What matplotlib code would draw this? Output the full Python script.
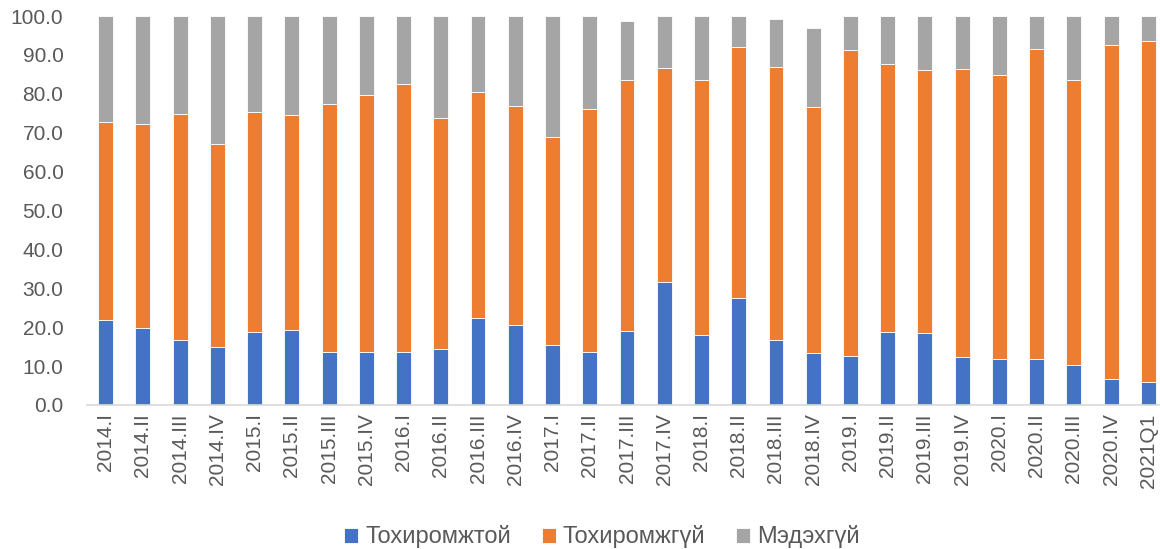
import matplotlib
matplotlib.use('Agg')
import matplotlib.pyplot as plt
import numpy as np

plt.rcParams['font.family'] = ['Liberation Sans', 'DejaVu Sans']

periods = ['2014.I', '2014.II', '2014.III', '2014.IV',
           '2015.I', '2015.II', '2015.III', '2015.IV',
           '2016.I', '2016.II', '2016.III', '2016.IV',
           '2017.I', '2017.II', '2017.III', '2017.IV',
           '2018.I', '2018.II', '2018.III', '2018.IV',
           '2019.I', '2019.II', '2019.III', '2019.IV',
           '2020.I', '2020.II', '2020.III', '2020.IV', '2021Q1']

# cumulative tops
suitable = [21.9, 19.9, 16.8, 14.9, 18.8, 19.3, 13.5, 13.5, 13.7, 14.5,
            22.4, 20.6, 15.3, 13.7, 19.1, 31.6, 18.1, 27.5, 16.7, 13.4,
            12.5, 18.7, 18.4, 12.3, 11.7, 11.9, 10.4, 6.6, 6.0]
top_orange = [72.7, 72.3, 74.8, 67.2, 75.4, 74.6, 77.3, 79.7, 82.6, 73.7,
              80.5, 76.9, 69.0, 76.0, 83.6, 86.7, 83.6, 92.0, 86.9, 76.7,
              91.3, 87.6, 86.0, 86.5, 84.8, 91.4, 83.5, 92.5, 93.7]
top_gray = [100.0, 100.0, 100.0, 99.9, 100.0, 100.0, 100.0, 100.0, 100.0, 100.0,
            100.0, 100.0, 99.9, 100.0, 98.6, 99.9, 99.9, 100.0, 99.3, 97.0,
            100.0, 100.0, 100.0, 100.0, 100.0, 100.0, 99.9, 100.0, 100.0]

not_suitable = np.array(top_orange) - np.array(suitable)
unknown = np.array(top_gray) - np.array(top_orange)

fig = plt.figure(figsize=(11.6, 5.49), dpi=100)
ax = fig.add_axes([87/1160, 144/549, 1080/1160, 389/549])

x = np.arange(len(periods))
w = 0.40
ax.bar(x, suitable, w, color='#4472C4', edgecolor='white', linewidth=0.6, label='Тохиромжтой')
ax.bar(x, not_suitable, w, bottom=suitable, color='#ED7D31', edgecolor='white', linewidth=0.6, label='Тохиромжгүй')
ax.bar(x, unknown, w, bottom=top_orange, color='#A5A5A5', edgecolor='white', linewidth=0.6, label='Мэдэхгүй')

ax.set_xlim(-0.5, len(periods) - 0.5)
ax.set_ylim(0, 100)
ax.set_yticks(np.arange(0, 101, 10))
ax.set_yticklabels(['%.1f' % v for v in np.arange(0, 101, 10)])
ax.set_xticks(x)
ax.set_xticklabels(periods, rotation=90)
ax.tick_params(axis='both', length=0, labelsize=15, colors='#595959')
ax.tick_params(axis='x', pad=6)
ax.tick_params(axis='y', pad=17)

for s in ['top', 'right', 'left']:
    ax.spines[s].set_visible(False)
ax.spines['bottom'].set_color('#D9D9D9')
ax.spines['bottom'].set_linewidth(1.2)

fig.legend(loc='center', bbox_to_anchor=(0.519, 12/549), ncol=3, frameon=False,
           fontsize=17, labelcolor='#595959', handlelength=0.6, handleheight=0.6,
           handletextpad=0.3, columnspacing=1.3)

fig.savefig('out.png', dpi=100)
